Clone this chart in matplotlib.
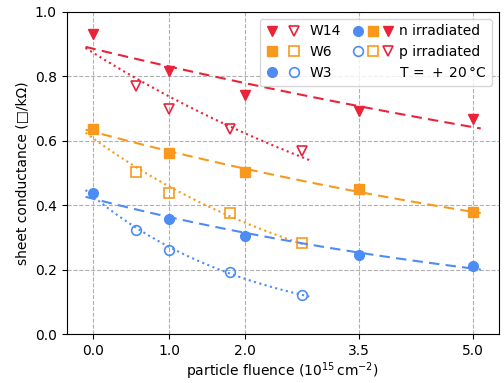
import numpy as np
import matplotlib
matplotlib.use('Agg')
import matplotlib.pyplot as plt
from matplotlib.legend_handler import HandlerTuple
from matplotlib.lines import Line2D

################################
fl_n = [0.0, 1.0, 2.0, 3.5, 5.0]      # n fluences (1e15 cm^-2)
fl_p = [0.56, 1.0, 1.8, 2.75]         # p fluences
w14_n = [0.930, 0.817, 0.742, 0.693, 0.667]
w14_p = [0.770, 0.700, 0.637, 0.568]
w6_n = [0.638, 0.561, 0.504, 0.451, 0.378]
w6_p = [0.502, 0.437, 0.377, 0.282]
w3_n = [0.439, 0.358, 0.304, 0.246, 0.212]
w3_p = [0.325, 0.263, 0.194, 0.122]
xticks = [0.0, 1.0, 2.0, 3.5, 5.0]
################################

red = '#e8233a'
orange = '#f8991d'
blue = '#4d8cf5'

def expfit(x, y, xr):
    b, a = np.polyfit(x, np.log(y), 1)
    xx = np.linspace(xr[0], xr[1], 100)
    return xx, np.exp(a + b*xx)

fig = plt.figure(figsize=(5.04, 3.83), dpi=100)
ax = fig.add_axes([0.132, 0.127, 0.858, 0.842])

series = [(w14_n, w14_p, red, 'v'), (w6_n, w6_p, orange, 's'), (w3_n, w3_p, blue, 'o')]
for yn, yp, c, m in series:
    xx, yy = expfit(fl_n, yn, (-0.1, 5.1))
    ax.plot(xx, yy, '--', color=c, lw=1.5, dashes=(5, 3))
    # p fit includes the unirradiated point
    xx, yy = expfit([fl_n[0]] + fl_p, [yn[0]] + yp, (-0.1, 2.85))
    ax.plot(xx, yy, ':', color=c, lw=1.5)
    ax.plot(fl_n, yn, m, color=c, ms=7, ls='none')
    ax.plot(fl_p, yp, m, mfc='none', mec=c, mew=1.2, ms=7, ls='none')

ax.set_xlim(-0.35, 5.34)
ax.set_ylim(0.0, 1.0)
ax.set_xticks(xticks)
ax.set_xticklabels(['%.1f' % t for t in xticks])
ax.set_yticks(np.arange(0, 1.01, 0.2))
ax.grid(True, ls='--', color='#b0b0b0', lw=0.8)
ax.set_axisbelow(True)
ax.set_xlabel(r'particle fluence (10$^{15}\,$cm$^{-2}$)', labelpad=2)
ax.set_ylabel('sheet conductance (\u25a1/k\u03a9)')

def mk(m, c, filled):
    if filled:
        return Line2D([], [], marker=m, color=c, ls='none', ms=7)
    return Line2D([], [], marker=m, mfc='none', mec=c, mew=1.2, ls='none', ms=7)

handles = [
    (mk('v', red, True), mk('v', red, False)),
    (mk('s', orange, True), mk('s', orange, False)),
    (mk('o', blue, True), mk('o', blue, False)),
    (mk('o', blue, True), mk('s', orange, True), mk('v', red, True)),
    (mk('o', blue, False), mk('s', orange, False), mk('v', red, False)),
    Line2D([], [], ls='none'),
]
labels = ['W14', 'W6', 'W3', 'n irradiated', 'p irradiated', r'T$\,=\,+\,20\,$°C']
ax.legend(handles, labels, ncol=2, loc='upper right',
          handler_map={tuple: HandlerTuple(ndivide=None, pad=0.6)},
          handlelength=2.6, columnspacing=1.0, handletextpad=0.6)

fig.savefig('out.png', dpi=100)
